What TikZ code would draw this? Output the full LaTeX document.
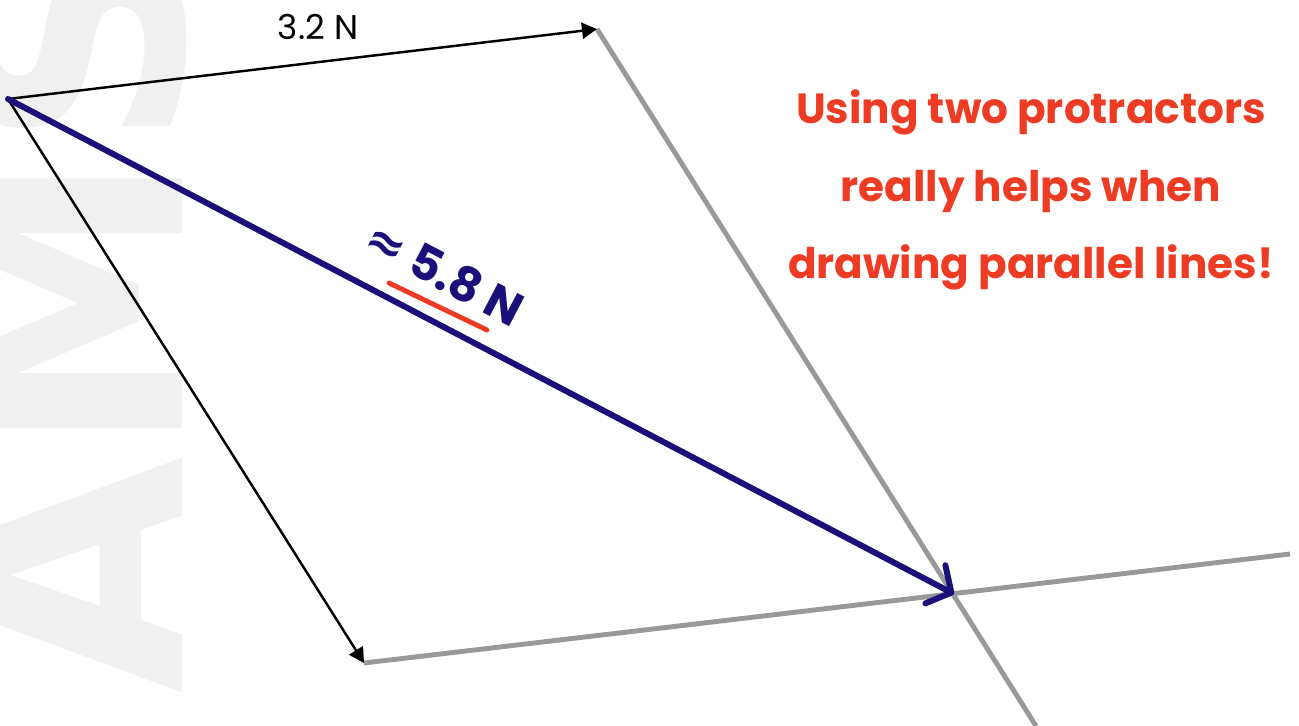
\documentclass[tikz,border=0pt]{standalone}
\usepackage{fontspec}
\usetikzlibrary{arrows.meta}
\newfontfamily\labfont{Poppins}
\newfontfamily\markfont{DejaVu Sans}
\definecolor{res}{HTML}{1B0F7A}
\definecolor{note}{HTML}{EE3B24}
\definecolor{guidegray}{HTML}{999999}
\definecolor{wmark}{HTML}{F0F0F0}
\tikzset{
  force/.style={-{Triangle[length=3mm, width=3.2mm]}, line width=1.4pt},
  parline/.style={draw=guidegray, line width=2.8pt},
  result/.style={-{Straight Barb[length=3.6mm, width=8.6mm, round]}, draw=res,
    line width=3.4pt, line cap=round},
  magn/.style={font=\labfont\fontsize{19.5}{22}\selectfont},
  hand/.style={text=res, font=\labfont\bfseries\fontsize{27}{30}\selectfont},
  remark/.style={text=note, align=center,
    font=\labfont\bfseries\fontsize{24}{44}\selectfont},
}

\begin{document}
\begin{tikzpicture}[x=0.02cm, y=-0.02cm]
\useasboundingbox (0,0) rectangle (1299,726);

% watermark, cut at the left edge
\begin{scope}
  \clip (0,0) rectangle (1299,726);
  \node[rotate=90, anchor=base west, inner sep=0pt, text=wmark,
    font=\markfont\bfseries\fontsize{175}{175}\selectfont] (wm) at (182,695) {AMS};
\end{scope}

% the two forces from one point, and the lines drawn parallel to them
\coordinate (O) at (8,99);
\coordinate (F1) at (597,29);
\coordinate (F2) at (364,663);
\coordinate (R) at (954,594);
\coordinate (g1) at (1036,726);
\coordinate (g2) at (1290,554);

\draw[parline] (F1) -- (g1);
\draw[parline] (F2) -- (g2);
\draw[force] (O) -- (F1);
\draw[force] (O) -- (F2);
\node[magn] (m1) at (318,27) {3.2 N};

% the resultant
\draw[result] (O) -- (R);
\node[hand, rotate=-27.6] (mr) at (445,273) {{\markfont ≈} 5.8 N};
\coordinate (u1) at (389,283);
\coordinate (u2) at (487,330);
\draw[draw=note, line width=2.8pt, line cap=round] (u1) -- (u2);

\node[remark] (tip) at (1031,190) {Using two protractors\\really helps when\\drawing parallel lines!};

\end{tikzpicture}
\end{document}
